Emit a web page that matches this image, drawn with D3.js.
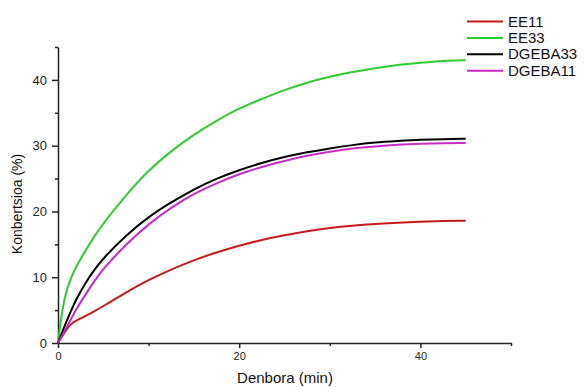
<!DOCTYPE html>
<html>
<head>
<meta charset="utf-8">
<script src="https://cdn.jsdelivr.net/npm/d3@7"></script>
<style>
  body { margin: 0; background: #fff; }
  svg { display: block; font-family: "Liberation Sans", Arial, sans-serif; }
</style>
</head>
<body>
<svg width="584" height="387"></svg>
<script>
const svg = d3.select("svg");

// time in minutes
const time = [0, 0.5, 1, 1.5, 2, 3, 4, 5, 7.5, 10, 12.5, 15, 17.5, 20, 22.5, 25, 27.5, 30, 32.5, 35, 37.5, 40, 42.5, 45];
const ee11 = [0, 1.1, 2.2, 3.0, 3.4, 4.1, 4.8, 5.6, 7.7, 9.6, 11.2, 12.6, 13.8, 14.8, 15.7, 16.4, 17.0, 17.5, 17.85, 18.1, 18.3, 18.45, 18.55, 18.6];
const ee33 = [0, 5.5, 8.3, 10.1, 11.6, 14.0, 16.2, 18.2, 22.5, 26.3, 29.2, 31.7, 33.8, 35.7, 37.1, 38.5, 39.6, 40.5, 41.2, 41.8, 42.3, 42.6, 42.9, 43.0];
const dgeba33 = [0, 1.8, 3.5, 5.1, 6.6, 9.1, 11.1, 12.9, 16.4, 19.2, 21.4, 23.4, 25.0, 26.3, 27.4, 28.3, 29.0, 29.6, 30.1, 30.5, 30.7, 30.9, 31.0, 31.05];
const dgeba11 = [0, 1.2, 2.5, 3.8, 5.1, 7.3, 9.4, 11.3, 15.0, 18.1, 20.6, 22.7, 24.3, 25.7, 26.8, 27.7, 28.5, 29.1, 29.6, 29.9, 30.15, 30.3, 30.4, 30.4];

const seriesNames = ["EE11", "EE33", "DGEBA33", "DGEBA11"];
const seriesValues = [ee11, ee33, dgeba33, dgeba11];
const colors = ["#c41a1a", "#2ecc2e", "#000000", "#c82ac8"];

const xTicks = [0, 20, 40];
const yTicks = [0, 10, 20, 30, 40];

var x = d3.scaleLinear().domain([0, 50]).range([58, 511]);
var y = d3.scaleLinear().domain([0, 45]).range([343, 47]);

// minor ticks
svg.append('g')
    .attr('transform', 'translate(0,343)')
    .call(d3.axisBottom(x).tickValues([10, 30, 50]).tickSize(3).tickFormat(''))
    .call(g => g.select('.domain').remove())
    .call(g => g.selectAll('line').attr('stroke', '#222').attr('stroke-width', 1.5));

svg.append('g')
    .attr('transform', 'translate(58,0)')
    .call(d3.axisLeft(y).tickValues([5, 15, 25, 35, 45]).tickSize(3).tickFormat(''))
    .call(g => g.select('.domain').remove())
    .call(g => g.selectAll('line').attr('stroke', '#222').attr('stroke-width', 1.5));

// x axis
svg.append('g')
    .attr('transform', 'translate(0,343)')
    .call(d3.axisBottom(x).tickValues(xTicks).tickSize(5).tickSizeOuter(0).tickPadding(4))
    .call(g => g.select('.domain').attr('stroke', '#222').attr('stroke-width', 1.5))
    .call(g => g.selectAll('line').attr('stroke', '#222').attr('stroke-width', 1.5))
    .call(g => g.selectAll('text').attr('font-size', 11).attr('fill', '#222')
        .attr('font-family', '"Liberation Sans", Arial, sans-serif'));

// y axis
svg.append('g')
    .attr('transform', 'translate(58,0)')
    .call(d3.axisLeft(y).tickValues(yTicks).tickSize(6).tickSizeOuter(0).tickPadding(5))
    .call(g => g.select('.domain').attr('stroke', '#222').attr('stroke-width', 1.5))
    .call(g => g.selectAll('line').attr('stroke', '#222').attr('stroke-width', 1.5))
    .call(g => g.selectAll('text').attr('font-size', 13).attr('fill', '#222')
        .attr('font-family', '"Liberation Sans", Arial, sans-serif'));

// axis titles
svg.append('text')
    .attr('x', 285)
    .attr('y', 383)
    .attr('text-anchor', 'middle')
    .attr('font-size', 15)
    .attr('fill', '#111')
    .text('Denbora (min)');

svg.append('text')
    .attr('transform', 'translate(22,204) rotate(-90)')
    .attr('text-anchor', 'middle')
    .attr('font-size', 14)
    .attr('fill', '#111')
    .text('Konbertsioa (%)');

// curves
var line = d3.line()
    .x(d => x(d[0]))
    .y(d => y(d[1]))
    .curve(d3.curveBasis);

svg.append('g')
    .attr('class', 'lines')
    .selectAll('path')
    .data(seriesValues)
    .enter()
    .append('path')
    .attr('d', vals => line(time.map((t, i) => [t, vals[i]])))
    .attr('fill', 'none')
    .attr('stroke', (d, i) => colors[i])
    .attr('stroke-width', 2);

// legend
var legend = svg.append('g')
    .attr('class', 'legend')
    .selectAll('g')
    .data(seriesNames)
    .enter()
    .append('g')
    .attr('transform', (d, i) => `translate(467,${21.5 + i * 16.4})`);

legend.append('line')
    .attr('x1', 0)
    .attr('x2', 36)
    .attr('stroke', (d, i) => colors[i])
    .attr('stroke-width', 2);

legend.append('text')
    .attr('x', 41)
    .attr('y', 5)
    .attr('font-size', 15)
    .attr('fill', '#111')
    .text(d => d);
</script>
</body>
</html>
